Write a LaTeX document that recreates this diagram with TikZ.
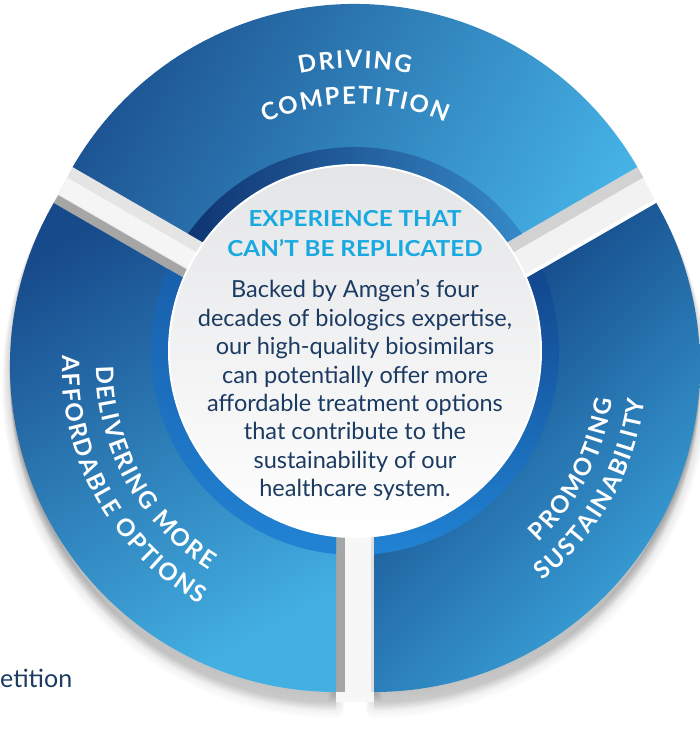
\documentclass[tikz,border=0pt]{standalone}
\usepackage{fontspec}
\usepackage{graphicx}
\setmainfont{Lato}
\usetikzlibrary{calc,decorations.text}
\definecolor{segTa}{HTML}{1C5291}
\definecolor{segTb}{HTML}{45B2E5}
\definecolor{segLa}{HTML}{174A8B}
\definecolor{segLb}{HTML}{43B0E3}
\definecolor{segRa}{HTML}{0E3A7B}
\definecolor{segRb}{HTML}{3CA6DD}
\definecolor{bandTa}{HTML}{0B2B68}
\definecolor{bandTb}{HTML}{3A92D1}
\definecolor{bandLa}{HTML}{15509B}
\definecolor{bandLb}{HTML}{2183D4}
\definecolor{bandRa}{HTML}{0B2D6F}
\definecolor{bandRb}{HTML}{2183D4}
\definecolor{titleblue}{HTML}{18A9E0}
\definecolor{bodynavy}{HTML}{1C3B63}
\definecolor{circtop}{HTML}{E4E5E7}
\newcommand\segfont{\fontsize{24}{26}\selectfont\bfseries}
\newcommand\bodyfont{\fontsize{23.5}{28}\selectfont}
\newcommand\titlefont{\fontsize{22}{26}\selectfont\bfseries}
\def\segR{326}
\newcommand\PieT{($(Ct)+(30:\segR)$) arc[start angle=30,end angle=150,radius=\segR] -- (Ct) -- cycle}
\newcommand\PieL{($(Cl)+(150:\segR)$) arc[start angle=150,end angle=270,radius=\segR] -- (Cl) -- cycle}
\newcommand\PieR{($(Cr)+(270:\segR)$) arc[start angle=270,end angle=390,radius=\segR] -- (Cr) -- cycle}
\tikzset{
  arctext/.style={decorate, decoration={text effects along path, text={#1}, text align=center,
     text effects/.cd, text along path, characters={text=white, font=\segfont},
     character widths={font=\segfont, inner xsep=0.9pt}}},
  bodyline/.style={anchor=base, inner sep=0pt, text=bodynavy, font=\bodyfont},
  titleline/.style={anchor=base, inner sep=0pt, text=titleblue, font=\titlefont}
}
\begin{document}
\begin{tikzpicture}[x=1pt,y=1pt]
\fill[white] (0,0) rectangle (700,732);
\useasboundingbox (0,0) rectangle (700,732);
\coordinate (O) at (355,381);
\coordinate (Ct) at (355,402);
\coordinate (Cl) at (336,366);
\coordinate (Cr) at (374,366);
% soft shadow
\foreach \k in {1,...,10}{
  \begin{scope}[transform canvas={shift={(0,-1.8*\k)}}]
    \path[fill=black, draw=black, fill opacity=0.024, draw opacity=0.016, line width=1.6*\k pt, line join=round] \PieT \PieL \PieR;
  \end{scope}
}
% gaps
\fill[gray!20] ($(Ct)+(150:100)$) -- ($(Ct)+(150:\segR)$) -- ($(Cl)+(150:\segR)$) -- ($(Cl)+(150:100)$) -- cycle;
\fill[gray!8] ($(Ct)+(150:100)+(240:12)$) -- ($(Ct)+(150:\segR)+(240:12)$) -- ($(Cl)+(150:\segR)+(60:10)$) -- ($(Cl)+(150:100)+(60:10)$) -- cycle;
\fill[gray!70] ($(Cl)+(150:100)$) -- ($(Cl)+(150:\segR)$) -- ($(Cl)+(150:\segR)+(60:9)$) -- ($(Cl)+(150:100)+(60:9)$) -- cycle;
\fill[gray!10] ($(Ct)+(30:100)$) -- ($(Ct)+(30:\segR)$) -- ($(Cr)+(30:\segR)$) -- ($(Cr)+(30:100)$) -- cycle;
\fill[gray!35] ($(Ct)+(30:100)$) -- ($(Ct)+(30:\segR)$) -- ($(Ct)+(30:\segR)+(300:12)$) -- ($(Ct)+(30:100)+(300:12)$) -- cycle;
\fill[white] ($(Cr)+(30:100)$) -- ($(Cr)+(30:\segR)$) -- ($(Cr)+(30:\segR)+(120:4)$) -- ($(Cr)+(30:100)+(120:4)$) -- cycle;
\fill[white!97!black] (336,30) rectangle (374,260);
\fill[gray!70] (336,40) rectangle (345,260);
\fill[gray!25] (371,40) rectangle (374,260);
% segments
\shade[top color=segTa, bottom color=segTb, shading angle=60] \PieT;
\shade[top color=segLa, bottom color=segLb, shading angle=30] \PieL;
\shade[top color=segRa, bottom color=segRb, shading angle=45] \PieR;
% inner bands
\begin{scope}
  \clip \PieT;
  \shade[left color=bandTa, right color=bandTb] (O) circle (204);
\end{scope}
\begin{scope}
  \clip \PieL;
  \shade[top color=bandLa, bottom color=bandLb] (O) circle (204);
\end{scope}
\begin{scope}
  \clip \PieR;
  \shade[top color=bandRa, bottom color=bandRb] (O) circle (204);
\end{scope}
% centre disc
\shade[top color=circtop, bottom color=white] (O) circle (186);
\draw[white, line width=2pt] (O) circle (186);
% curved labels
\path[arctext={DRIVING}] ($(Ct)+(150:262)$) arc[start angle=150, end angle=30, radius=262];
\path[arctext={COMPETITION}] ($(Ct)+(150:226)$) arc[start angle=150, end angle=30, radius=226];
\path[arctext={DELIVERING MORE}] ($(Cl)+(149:240)$) arc[start angle=149, end angle=269, radius=240];
\path[arctext={AFFORDABLE OPTIONS}] ($(Cl)+(149:274)$) arc[start angle=149, end angle=269, radius=274];
\path[arctext={PROMOTING}] ($(Cr)+(-87.5:241)$) arc[start angle=-87.5, end angle=32.5, radius=241];
\path[arctext={SUSTAINABILITY}] ($(Cr)+(-89.5:273)$) arc[start angle=-89.5, end angle=30.5, radius=273];
% centre text
\node[titleline] (h1) at (355,505) {\scalebox{1.1}[1]{EXPERIENCE THAT}};
\node[titleline] (h2) at (355,475) {\scalebox{1.1}[1]{CAN’T BE REPLICATED}};
\node[bodyline] (b1) at (355,434) {Backed by Amgen’s four};
\node[bodyline] (b2) at (355,405.6) {decades of biologics expertise,};
\node[bodyline] (b3) at (355,377.2) {our high-quality biosimilars};
\node[bodyline] (b4) at (355,348.8) {can potentially offer more};
\node[bodyline] (b5) at (355,320.4) {affordable treatment options};
\node[bodyline] (b6) at (355,292) {that contribute to the};
\node[bodyline] (b7) at (355,263.6) {sustainability of our};
\node[bodyline] (b8) at (355,235.2) {healthcare system.};
\node[anchor=base west, inner sep=0pt, text=bodynavy, font=\fontsize{25}{28}\selectfont] (frag) at (0,44) {etition};
\end{tikzpicture}
\end{document}
